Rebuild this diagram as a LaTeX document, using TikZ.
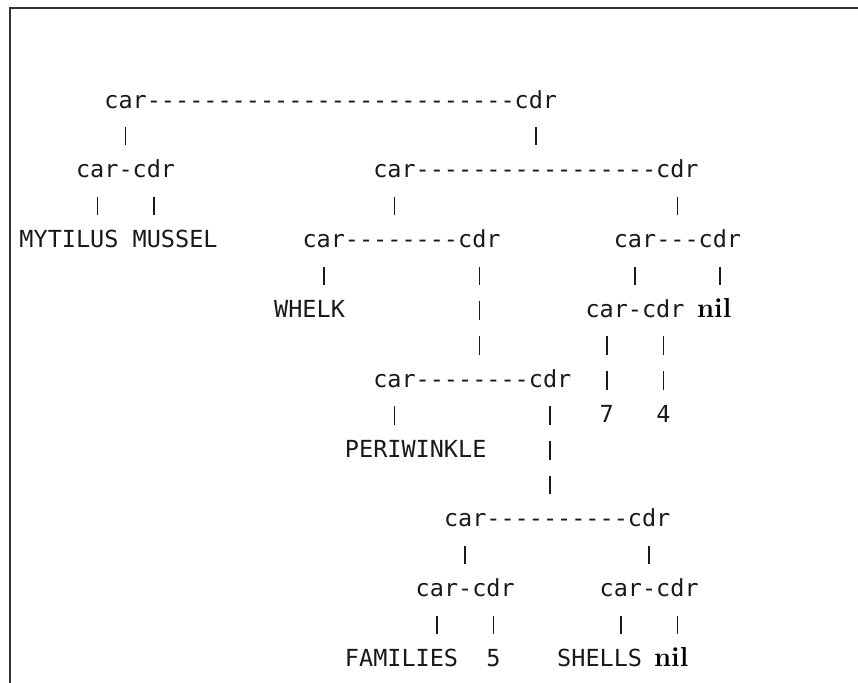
\documentclass[tikz,border=0pt]{standalone}
\usepackage{fontspec}
\newfontfamily\monofont{DejaVu Sans Mono}[Ligatures=TeXOff]

% grid of the character layout: column pitch and row pitch
\newcommand\gx[1]{19.5+14.15*(#1)}
\newcommand\gy[1]{108+34.9*(#1)}

\tikzset{
  tok/.style={font=\monofont\fontsize{23.5}{28}\selectfont, anchor=base west,
              inner sep=0pt, outer sep=0pt, text=black!90},
  kw/.style={font=\fontsize{27.5}{32}\selectfont\bfseries, anchor=base west,
             inner sep=0pt, outer sep=0pt, text=black},
  bar/.style={line width=1.6pt, black!90},
  frame/.style={line width=1.3pt, black!80}
}

% a text token at (row, column)
\newcommand\tok[4]{\node[tok] (#1) at ({\gx{#3}},{\gy{#2}}) {#4};}
% a vertical link character at (row, column)
\newcommand\vbar[3]{\draw[bar] ({\gx{#3}+7.075},{\gy{#2}-16}) coordinate (#1t)
  -- ({\gx{#3}+7.075},{\gy{#2}+2.5}) coordinate (#1b);}

\begin{document}
\begin{tikzpicture}[x=1pt,y=-1pt]
\useasboundingbox (0,0) rectangle (858,682);
\clip (0,0) rectangle (858,682);
\draw[frame] (10,700) -- (10,8) -- (880,8);

% row 0
\tok{a0}{0}{6}{car--------------------------cdr}
% row 1
\vbar{b1a}{1}{7} \vbar{b1b}{1}{36}
% row 2
\tok{a2}{2}{4}{car-cdr}
\tok{b2}{2}{25}{car-----------------cdr}
% row 3
\vbar{b3a}{3}{5} \vbar{b3b}{3}{9} \vbar{b3c}{3}{26} \vbar{b3d}{3}{46}
% row 4
\tok{mytilus}{4}{0}{MYTILUS}
\tok{mussel}{4}{8}{MUSSEL}
\tok{c4}{4}{20}{car--------cdr}
\tok{d4}{4}{42}{car---cdr}
% row 5
\vbar{b5a}{5}{21} \vbar{b5b}{5}{32} \vbar{b5c}{5}{43} \vbar{b5d}{5}{49}
% row 6
\tok{whelk}{6}{18}{WHELK}
\vbar{b6a}{6}{32}
\tok{e6}{6}{40}{car-cdr}
\node[kw] (nilA) at (697,{\gy{6}}) {nil};
% row 7
\vbar{b7a}{7}{32} \vbar{b7b}{7}{41} \vbar{b7c}{7}{45}
% row 8
\tok{f8}{8}{25}{car--------cdr}
\vbar{b8a}{8}{41} \vbar{b8b}{8}{45}
% row 9
\vbar{b9a}{9}{26} \vbar{b9b}{9}{37}
\tok{seven}{9}{41}{7}
\tok{four}{9}{45}{4}
% row 10
\tok{periwinkle}{10}{23}{PERIWINKLE}
\vbar{b10a}{10}{37}
% row 11
\vbar{b11a}{11}{37}
% row 12
\tok{g12}{12}{30}{car----------cdr}
% row 13
\vbar{b13a}{13}{31} \vbar{b13b}{13}{44}
% row 14
\tok{h14}{14}{28}{car-cdr}
\tok{i14}{14}{41}{car-cdr}
% row 15
\vbar{b15a}{15}{29} \vbar{b15b}{15}{33} \vbar{b15c}{15}{42} \vbar{b15d}{15}{46}
% row 16
\tok{families}{16}{23}{FAMILIES}
\tok{five}{16}{33}{5}
\tok{shells}{16}{38}{SHELLS}
\node[kw] (nilB) at (654,{\gy{16}}) {nil};
\end{tikzpicture}
\end{document}
